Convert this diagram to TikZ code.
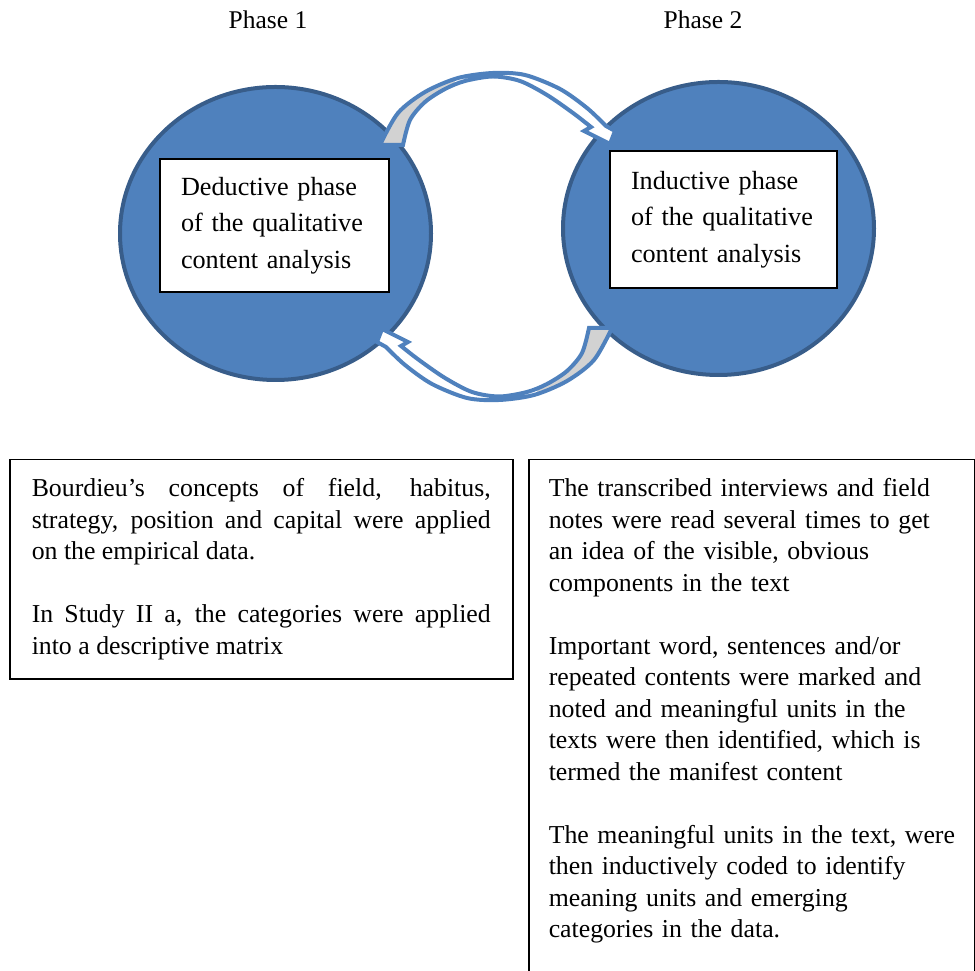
\documentclass[tikz,border=0pt]{standalone}
\usepackage{fontspec}
\setmainfont{Liberation Serif}
\usetikzlibrary{shapes.geometric}
\definecolor{circblue}{HTML}{4F81BD}
\definecolor{circedge}{HTML}{385D8A}
\definecolor{ribgray}{HTML}{D2D2D2}
\tikzset{
	phase/.style = {
		inner sep=0pt,
		font=\fontsize{25.5}{30}\selectfont
	},
	circ/.style = {
		shape=ellipse,
		fill=circblue,
		draw=circedge,
		line width=4pt,
		minimum width=311pt,
		minimum height=293pt,
		inner sep=0pt
	},
	stagebox/.style = {
		shape=rectangle,
		draw,
		fill=white,
		line width=1.5pt,
		align=left,
		inner xsep=21pt,
		inner ysep=0pt,
		font=\fontsize{26.2}{36.5}\selectfont
	},
	notebox/.style = {
		shape=rectangle,
		draw,
		line width=1.5pt,
		inner xsep=22pt,
		inner ysep=19pt,
		font=\fontsize{25.8}{31.5}\selectfont
	},
	ribbon/.style = {draw=circblue, line width=4pt, line join=miter}
}
% outline of the upper curved arrow
\newcommand{\ribbonpath}{plot[smooth] coordinates {(380,826) (398,858) (425,879) (458,893) (493,898) (525,896) (560,882) (587,863) (606,845)}
	-- (615,840) -- (610,827) -- (584,840)
	-- plot[smooth] coordinates {(591,844) (573,858) (547,876) (520,890) (493,894.5) (465,890) (445,882) (425,869) (410,851) (403,826)} -- cycle}

\begin{document}
\begin{tikzpicture}[x=1pt, y=1pt]
	\useasboundingbox (0,0) rectangle (975,971);
	\clip (0,0) rectangle (975,971);

	\node[phase] (phaseone) at (268,951) {Phase 1};
	\node[phase] (phasetwo) at (703,951) {Phase 2};

	\node[circ] (deductcirc) at (275.5,737.5) {};
	\node[circ] (inductcirc) at (718.5,742.5) {};

	% curved arrows between the phases
	\foreach \ang in {0,180} {
		\begin{scope}[rotate around={\ang:(496,734.5)}]
			\fill[white] \ribbonpath;
			\begin{scope}
				\clip \ribbonpath;
				\fill[ribgray] (370,800) rectangle (455,910);
			\end{scope}
			\draw[ribbon] \ribbonpath;
		\end{scope}
	}

	\node[stagebox, text width=187pt, minimum height=133pt] (deductbox) at (274.5,745.5) {Deductive phase\\ of the qualitative\\ content analysis};
	\node[stagebox, text width=185pt, minimum height=137pt] (inductbox) at (723.5,751.5) {Inductive phase\\ of the qualitative\\ content analysis};

	\node[notebox, text width=459pt, align=justify, anchor=north west] (deductnotes) at (9,512) {Bourdieu’s concepts of field, habitus,\linebreak strategy, position and capital were applied\linebreak on the empirical data.\\[31.5pt]
		In Study II a, the categories were applied\linebreak into a descriptive matrix};

	\node[notebox, minimum width=445.5pt, minimum height=540pt, anchor=north west] (inductframe) at (528,512) {};
	\node[notebox, draw=none, inner xsep=20pt, text width=420pt, align=left, anchor=north west] (inductnotes) at (inductframe.north west) {The transcribed interviews and field\\ notes were read several times to get\\ an idea of the visible, obvious\\ components in the text\\[31.5pt]
		Important word, sentences and/or\\ repeated contents were marked and\\ noted and meaningful units in the\\ texts were then identified, which is\\ termed the manifest content\\[31.5pt]
		The meaningful units in the text, were\\ then inductively coded to identify\\ meaning units and emerging\\ categories in the data.};
\end{tikzpicture}
\end{document}
